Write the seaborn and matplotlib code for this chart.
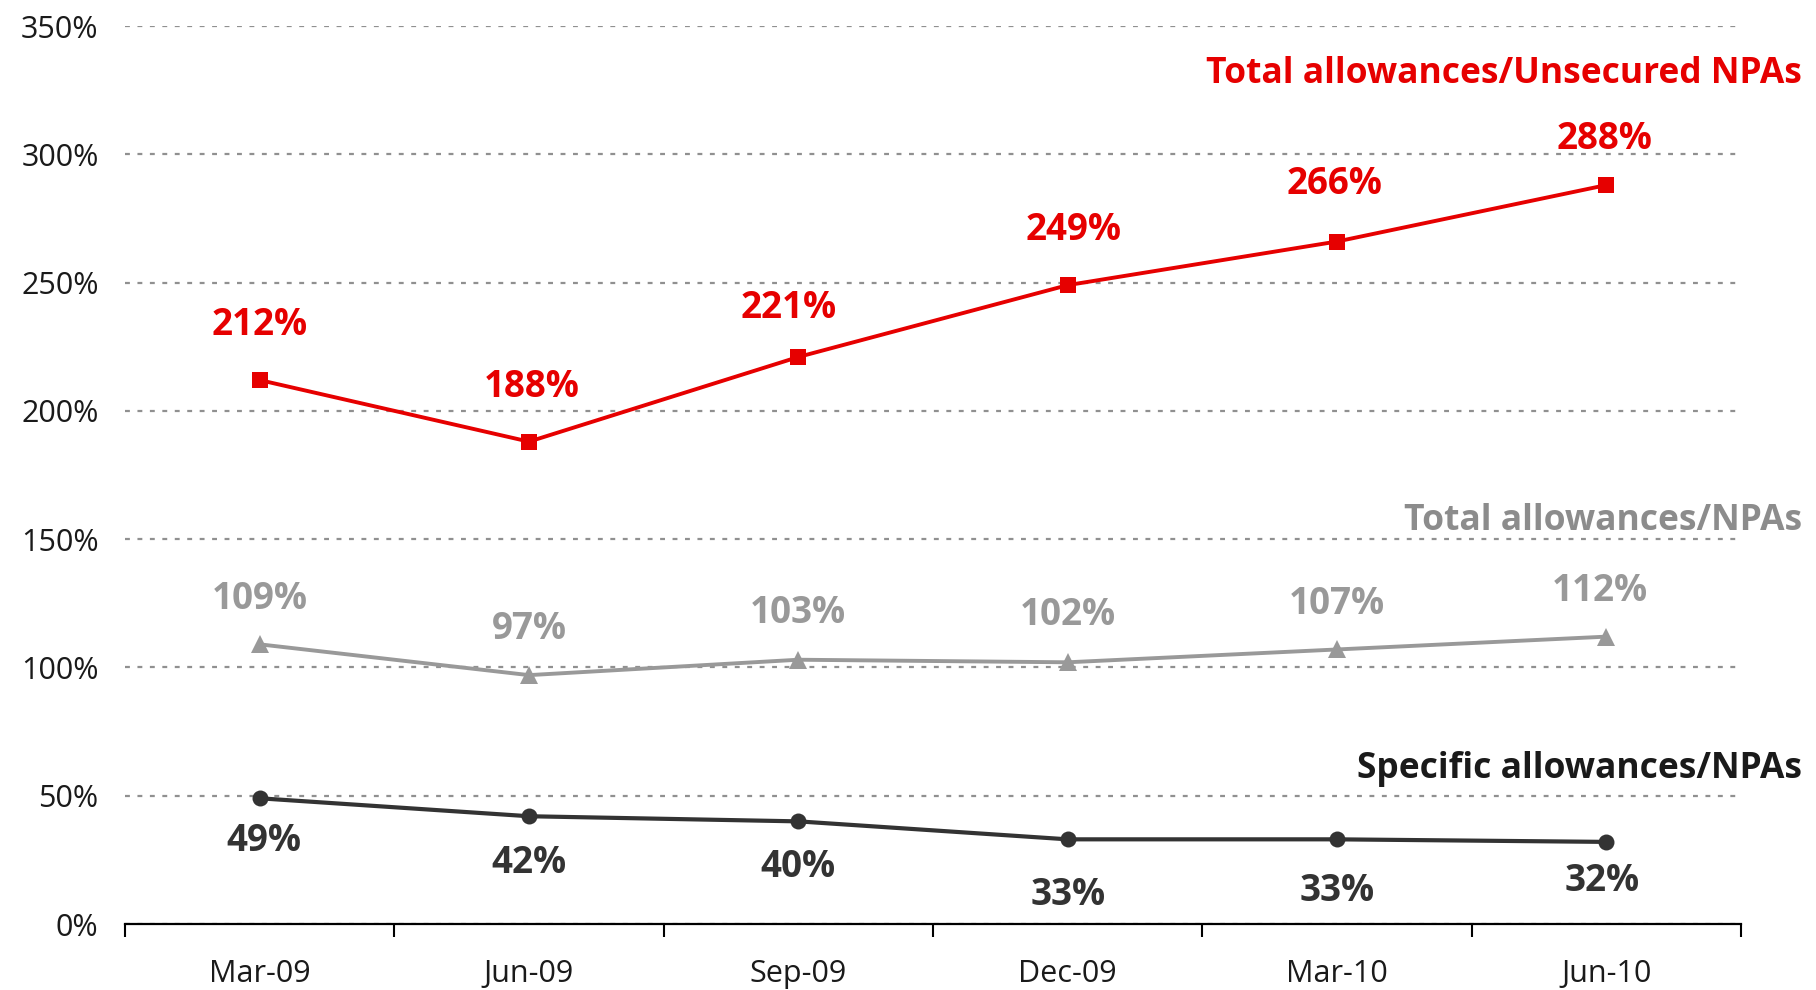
import matplotlib
matplotlib.use("Agg")
import matplotlib.pyplot as plt
import seaborn as sns
import pandas as pd
from matplotlib.ticker import FixedLocator, FuncFormatter

# ---- data ----
periods = ["Mar-09", "Jun-09", "Sep-09", "Dec-09", "Mar-10", "Jun-10"]
unsecured_cover = [212, 188, 221, 249, 266, 288]
total_cover = [109, 97, 103, 102, 107, 112]
specific_cover = [49, 42, 40, 33, 33, 32]
series_names = [
    "Total allowances/Unsecured NPAs",
    "Total allowances/NPAs",
    "Specific allowances/NPAs",
]
y_ticks = [0, 50, 100, 150, 200, 250, 300, 350]

# ---- styling ----
RED = "#e60000"
GREY = "#999999"
GREY_LABEL = "#8c8c8c"
DARK = "#333333"

sns.set_theme(style="white")
plt.rcParams["font.family"] = ["Open Sans", "DejaVu Sans"]

fig = plt.figure(figsize=(18.16, 9.9), dpi=100)
ax = fig.add_axes([125 / 1816, 66 / 990, (1741 - 125) / 1816, 898 / 990])

frames = []
for name, vals in zip(series_names, [unsecured_cover, total_cover, specific_cover]):
    frames.append(pd.DataFrame({"period": periods, "value": vals, "series": name}))
df = pd.concat(frames, ignore_index=True)

styles = {
    series_names[0]: dict(color=RED, marker="s", ms=11.5, lw=2.8),
    series_names[1]: dict(color=GREY, marker="^", ms=13, lw=2.8),
    series_names[2]: dict(color=DARK, marker="o", ms=11.5, lw=3.0),
}
for name in series_names:
    st = styles[name]
    sns.lineplot(
        data=df[df["series"] == name], x="period", y="value", ax=ax,
        color=st["color"], marker=st["marker"], markersize=st["ms"],
        markeredgewidth=0, linewidth=st["lw"], sort=False, legend=False,
        zorder=3,
    )

# value labels (offsets in points)
label_specs = [
    (unsecured_cover, RED, [39.5, 39.5, 35.5, 39.5, 41.5, 33.5], [0, 2, -7, 4, -2, -1]),
    (total_cover, GREY, [33, 33, 33.5, 34, 33, 33], [0, 0, 0, 0, 0, -5]),
    (specific_cover, DARK, [-31, -34, -33, -40, -37, -28], [3, 0, 0, 0, 0, -3]),
]
for vals, col, dys, dxs in label_specs:
    for i, v in enumerate(vals):
        ax.annotate(f"{v}%", xy=(i, v), xytext=(dxs[i], dys[i]),
                    textcoords="offset points", ha="center", va="center",
                    fontsize=26.5, fontweight="bold", color=col, zorder=4)

# series names at the right
fig.text(1802 / 1816, 1 - 74 / 990, series_names[0], ha="right", va="center",
         fontsize=25.5, fontweight="bold", color=RED)
fig.text(1802 / 1816, 1 - 521 / 990, series_names[1], ha="right", va="center",
         fontsize=25.5, fontweight="bold", color=GREY_LABEL)
fig.text(1802 / 1816, 1 - 769 / 990, series_names[2], ha="right", va="center",
         fontsize=25.5, fontweight="bold", color="#1a1a1a")

# axes
ax.set_xlim(-0.5, len(periods) - 0.5)
ax.set_ylim(0, 350)
ax.yaxis.set_major_locator(FixedLocator(y_ticks))
ax.yaxis.set_major_formatter(FuncFormatter(lambda v, p: f"{v:.0f}%"))
ax.set_xticks(range(len(periods)))
ax.set_xticklabels(periods)
ax.set_xticks([i - 0.5 for i in range(len(periods) + 1)], minor=True)
ax.tick_params(axis="x", which="major", length=0, pad=25, labelsize=22,
               labelcolor="#1a1a1a")
ax.tick_params(axis="x", which="minor", length=9, width=1.5, color="black",
               direction="out", bottom=True)
ax.tick_params(axis="y", length=0, pad=19, labelsize=22, labelcolor="#1a1a1a")
ax.set_xlabel("")
ax.set_ylabel("")

ax.grid(axis="y", color="#909090", linewidth=1.6, linestyle=(0, (2.2, 3.4)))
ax.grid(axis="x", visible=False)
ax.set_axisbelow(True)
for side in ["top", "right", "left"]:
    ax.spines[side].set_visible(False)
ax.spines["bottom"].set_color("black")
ax.spines["bottom"].set_linewidth(1.6)
ax.spines["bottom"].set_zorder(5)

fig.savefig("out.png", dpi=100)
